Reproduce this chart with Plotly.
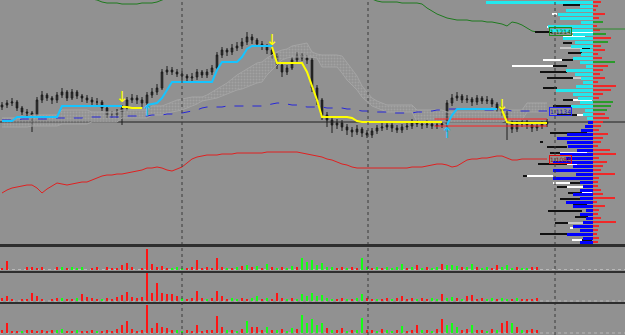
import plotly.graph_objects as go

# ---------------- price data (arbitrary price units) ----------------
idx = list(range(110))
o = [138,140,142,143,137,133,132,130,145,150,
     147,145,150,153,147,153,149,147,145,143,
     143,137,130,130,133,137,145,147,145,142,
     150,153,157,173,175,173,171,169,167,168,
     173,170,173,177,190,195,193,197,199,203,
     208,205,201,199,195,190,180,173,177,185,
     190,187,185,157,145,130,125,120,122,118,
     115,113,116,112,110,114,117,118,120,117,
     115,118,119,123,121,120,121,119,120,121,
     142,147,149,145,146,143,147,144,145,141,
     137,133,123,116,121,123,120,117,119,121]
h = [143,145,147,145,139,136,134,148,154,152,
     149,153,157,155,156,155,151,150,148,147,
     145,139,134,136,140,148,151,150,148,153,
     157,161,176,179,178,176,174,171,172,176,
     175,176,180,193,198,197,201,203,207,213,
     211,207,204,201,197,192,182,180,188,193,
     192,190,187,160,147,133,128,126,125,121,
     118,120,118,115,117,120,122,124,123,120,
     121,123,126,125,124,125,124,123,124,145,
     151,153,151,150,148,150,149,149,147,143,
     139,135,125,124,126,125,122,122,124,126]
l = [135,137,139,134,130,128,113,127,142,144,
     141,142,147,144,145,146,143,142,140,139,
     134,127,127,127,120,134,142,141,138,140,
     147,150,155,170,170,168,165,164,164,165,
     167,167,170,175,187,189,190,194,196,200,
     201,198,195,191,186,176,168,170,175,182,
     184,181,153,140,125,118,112,116,114,110,
     108,110,108,107,107,111,114,115,113,112,
     112,115,116,118,116,117,116,116,117,113,
     139,144,142,142,139,140,141,141,138,133,
     129,105,112,113,118,116,113,114,116,118]
c = [140,142,143,137,133,132,130,145,150,147,
     145,150,153,147,153,149,147,145,143,143,
     137,130,130,133,137,145,147,145,142,150,
     153,157,173,175,173,171,169,167,168,173,
     170,173,177,190,195,193,197,199,203,208,
     205,201,199,195,190,180,173,177,185,190,
     187,185,157,145,130,125,120,122,118,115,
     113,116,112,110,114,117,118,120,117,115,
     118,119,123,121,120,121,119,120,121,142,
     147,149,145,146,143,147,144,145,141,137,
     133,123,116,121,123,120,117,119,121,123]

N = None
trend_up = ([124]*3 + [128]*9 + [139]*13 + [N]*4 +
            [140,141,142,147,155] + [163]*9 + [175] + [183]*4 + [188,196] + [199]*5 +
            [N]*34 + [120,130] + [136]*9 + [N]*10)
trend_dn = ([N]*24 + [138,138,137,137,137] + [N]*25 +
            [198] + [182]*6 + [173,160,145] + [128]*6 + [127,124] + [123]*17 +
            [N]*11 + [135,123] + [122]*8)

ma_blue = [125,125,125,125,126,126,126,126,126,126,127,127,127,127,
           127,127,127,128,128,128,128,128,
           128,128,128,129,129,129,129,
           129,130,130,130,131,131,132,
           132,133,134,135,137,138,
           138,138,138,139,139,139,139,139,139,139,
           139,140,141,142,142,
           141,140,140,139,138,138,
           138,138,137,137,137,137,
           136,136,135,134,134,133,
           133,133,133,132,132,132,132,132,
           133,133,134,134,135,135,136,
           136,136,136,136,136,135,135,135,135,135,
           135,135,134,134,134,134,134,134,134,134]

band_low = [52,55,57,58,59,60,60,57,52,56,
            59,62,61,60,61,62,63,63,65,67,
            69,70,70,71,71,72,73,74,75,77,
            77,78,77,75,74,76,78,82,86,88,
            89,90,90,90,91,91,91,92,92,92,
            92,92,92,93,93,93,93,93,93,93,
            92,91,90,89,88,86,85,83,81,80,
            78,77,77,77,77,77,77,77,77,77,
            77,77,78,78,78,79,80,81,81,80,
            78,79,82,85,86,86,87,87,88,89,
            89,87,85,85,86,86,86,86,86,86]

band_high = [252,252,251,251,250,250,250,249,249,249,249,248,248,248,247,247,247,246,246,
             245,243,242,242,242,241,241,241,241,242,242,242,243,245,
             247,248,249,250,251,252,253,254,255,256,257,258,259,260,261,262,263,264,265,266,
             266,266,265,264,263,262,261,260,259,258,257,256,255,254,253,252,251,250,249,248,247,
             246,244,243,243,243,243,242,242,242,242,241,237,234,231,229,227,226,
             225,225,225,224,224,224,223,223,222,221,219,223,222,220,217,214,213,213,213]

cloud_a = ([127]*6 + [130]*6 + [135]*6 + [133]*6 + [135]*6 + [139]*3 +
           [141,143,145,146,147,148,148,148,150,153,156,159,162,166,170,173,176,179,182,183,
            187,190,193,195,196,199,200,201,202,193,191] +
           [190]*4 + [189,182,175,169,159,153,147,144,142] +
           [140]*6 + [135]*6 + [133]*12 + [135]*4 + [142]*5)
cloud_b = ([118]*6 + [119]*6 + [121]*6 + [123]*6 + [127]*6 + [130]*3 +
           [132,133,134,135,137,139,141,144,145,146,147,149,151,153,155,156,158,160,162,163,
            170,175,180,185,187,188,188,188,188,188,187] +
           [178]*4 + [172,165,160,155,148,143,139,137,135] +
           [133]*6 + [123]*6 + [123]*12 + [125]*4 + [133]*5)

bid_level = 123
red_levels = [126, 119]
red_level_span = [86.5, 109]
day_breaks = [36, 73.2, 110.6]

sig_dn_x = [24, 54, 100]
sig_dn_y = [147, 204, 139]
sig_up_x = [29, 89]
sig_up_y = [133, 111]

# ---------------- volume panels ----------------
vol1 = [2,9,0,0,0,3,3,2,3,0,0,3,3,2,3,2,3,0,2,3,
        0,3,2,2,5,7,3,0,2,21,6,3,4,2,2,3,2,2,3,10,
        2,3,2,12,3,2,2,3,4,5,3,4,2,6,3,2,3,2,4,3,
        12,8,10,5,7,3,3,2,3,2,3,2,12,3,2,3,2,3,2,3,
        6,2,3,5,2,3,2,3,6,5,5,4,3,3,6,3,2,3,2,5,
        3,5,2,3,2,2,3,3,0,0]
vup1 = [0,0,0,0,0,0,0,0,0,0,0,0,1,0,1,1,1,0,0,0,
        0,0,0,0,0,0,0,0,0,0,0,0,0,0,1,1,1,0,0,0,
        0,0,0,0,0,1,0,1,0,1,0,1,0,1,0,1,0,1,1,0,
        1,1,1,1,1,1,1,0,0,1,0,0,1,1,0,1,0,1,1,1,
        1,0,1,0,1,0,1,1,0,1,1,1,0,1,1,0,1,1,0,0,
        1,1,1,0,1,1,0,0,0,0]
vol2 = [3,5,2,0,2,2,8,5,2,0,2,3,3,2,2,3,7,4,3,2,
        2,3,2,4,6,9,4,3,4,28,8,18,8,7,7,5,3,2,3,10,
        3,2,3,10,5,2,3,2,3,2,3,5,2,3,2,8,3,2,3,2,
        7,5,8,5,6,3,2,2,3,2,2,3,7,3,2,2,2,3,2,3,
        5,2,3,2,3,2,3,2,7,3,4,3,2,5,6,2,3,2,3,2,
        3,2,2,3,2,2,2,3,0,0]
vup2 = [0,0,0,0,0,0,0,0,0,0,0,0,1,0,0,1,0,0,0,0,
        1,0,0,0,0,0,0,0,0,0,0,0,0,0,0,0,1,0,0,0,
        0,1,0,0,0,0,1,1,0,0,1,1,0,1,0,0,0,1,0,1,
        1,1,1,1,1,1,1,0,0,1,0,1,1,0,0,1,0,0,1,0,
        0,0,0,1,0,0,1,1,0,1,1,0,1,0,0,0,0,1,1,0,
        1,1,0,1,0,0,0,0,0,0]
vol3 = [3,10,2,2,2,3,3,2,3,2,3,3,4,2,2,3,2,2,3,2,
        2,3,2,4,8,12,4,2,3,28,5,10,6,5,3,3,2,3,2,8,
        2,3,3,17,6,3,3,2,4,12,6,6,3,6,3,3,4,2,5,4,
        18,10,14,8,10,5,3,3,5,2,3,3,15,3,3,2,4,3,2,3,
        7,2,3,8,3,3,2,4,14,8,10,6,3,4,8,3,3,2,4,3,
        10,12,10,6,3,3,4,3,0,0]
vup3 = [0,0,0,0,1,0,0,0,0,0,0,1,1,0,0,1,0,0,0,1,
        0,0,0,0,0,0,0,0,0,0,0,0,0,0,0,1,1,0,0,0,
        0,0,0,0,0,1,0,1,0,1,0,0,0,1,0,1,0,1,1,0,
        1,1,1,1,1,0,1,0,0,1,0,1,1,0,0,1,0,1,1,0,
        1,0,0,0,1,0,1,0,0,1,1,1,0,0,1,0,0,1,0,1,
        0,0,1,0,1,0,0,0,0,0]

# ---------------- volume profile (right side) ----------------
prof_lvl = list(range(243, 2, -4))
prof_left = [107,13,27,35,33,12,45,43,20,30,
             18,22,13,12,20,13,7,27,18,12,
             10,17,37,20,15,13,22,8,10,6,
             5,8,12,26,36,26,25,16,33,27,
             40,20,40,17,40,13,10,13,20,13,
             27,20,7,13,7,10,20,13,26,10,
             13]
prof_right = [8,5,3,12,6,10,4,7,13,18,
              15,8,12,5,9,22,15,10,7,12,
              5,23,18,10,6,20,18,14,12,16,
              10,8,6,15,10,8,5,17,23,6,
              14,10,8,22,6,5,5,8,10,22,
              4,12,6,5,8,23,6,5,4,6,
              5]
prof_right_up = [0,0,0,0,0,1,0,0,1,0,
                 1,0,0,0,0,1,0,0,0,0,
                 0,0,0,0,0,1,1,1,0,0,
                 0,0,0,0,0,0,0,0,0,0,
                 0,0,0,0,0,0,0,0,0,0,
                 0,0,0,0,0,0,0,0,0,0,
                 0]
prof_split = 125

seg_lvl = [240,231,226,226,218,213,213,209,202,197,197,192,185,185,179,179,173,167,167,157,
           145,145,139,130,130,112,103,98,92,92,81,81,75,69,69,62,62,58,58,52,
           52,46,40,34,28,22,22,17,11,11,5,5]
seg_x0 = [-30,-41,-31,-15,-46,-58,-23,-30,-30,-33,-11,-25,-50,-31,-81,-40,-53,-46,-20,-50,
          -30,-20,-40,-36,-16,-43,-53,-46,-43,-33,-55,-26,-33,-70,-66,-40,-23,-36,-26,-25,
          -11,-33,-20,-45,-18,-38,-25,-23,-53,-26,-21,-11]
seg_x1 = [-13,-36,-15,-11,-26,-41,0,-8,-21,-11,-3,-11,-31,-20,-40,-26,-26,-20,-3,-36,
          -20,-1,-13,-16,-1,-6,-50,-26,-33,-6,-26,-16,-13,-66,-40,-23,-6,-26,-6,-11,
          -1,-13,-6,-11,-5,-25,-6,-20,-26,-10,-11,-1]
seg_col = ['k','w','w','k','w','k','w','w','k','g','k','k','w','k','w','k','k','k','g','k',
           'k','w','k','k','w','k','k','k','k','w','k','w','k','k','w','w','k','k','w','k',
           'w','k','k','k','k','k','g','w','k','g','w','k']
right_line_level = 216
right_line_span = [0, 32]

labels = ["1.1214", "1.1134", "1.1086"]
label_lvl = [214, 134, 86]

# ---------------- styling ----------------
BG = '#919191'
RED = '#ff1414'
GREEN = '#14ff14'
fig = go.Figure()

fig.add_trace(go.Scatter(x=idx, y=cloud_a, mode='lines', line=dict(color='#a4a4a4', width=1),
                         hoverinfo='skip'))
fig.add_trace(go.Scatter(x=idx, y=cloud_b, mode='lines', line=dict(color='#a4a4a4', width=1),
                         fill='tonexty', fillcolor='rgba(0,0,0,0)',
                         fillpattern=dict(shape='.', fgcolor='#b2b2b2', bgcolor='rgba(150,150,150,0.3)',
                                          size=3, solidity=0.4),
                         hoverinfo='skip'))
fig.add_trace(go.Scatter(x=idx, y=band_low, mode='lines', line=dict(color='#e02020', width=1)))
fig.add_trace(go.Scatter(x=idx, y=band_high, mode='lines', line=dict(color='#1f7a1f', width=1)))
fig.add_trace(go.Scatter(x=idx, y=ma_blue, mode='lines', line=dict(color='#2626d9', width=1, dash='dash')))
for lv in red_levels:
    fig.add_trace(go.Scatter(x=red_level_span, y=[lv, lv], mode='lines', line=dict(color='#ff2020', width=1)))

fig.add_trace(go.Candlestick(x=idx, open=o, high=h, low=l, close=c, whiskerwidth=0,
                             increasing=dict(line=dict(color='#1c1c1c', width=1), fillcolor='#3c3c3c'),
                             decreasing=dict(line=dict(color='#1c1c1c', width=1), fillcolor='#1c1c1c'),
                             hoverinfo='skip'))

fig.add_trace(go.Scatter(x=idx, y=trend_up, mode='lines', line=dict(color='#16c4ff', width=2), connectgaps=False))
fig.add_trace(go.Scatter(x=idx, y=trend_dn, mode='lines', line=dict(color='#ffff00', width=2), connectgaps=False))
fig.add_trace(go.Scatter(x=sig_dn_x, y=sig_dn_y, mode='text', text=['↓']*len(sig_dn_x),
                         textfont=dict(color='#ffff00', size=15, family='DejaVu Sans')))
fig.add_trace(go.Scatter(x=sig_up_x, y=sig_up_y, mode='text', text=['↑']*len(sig_up_x),
                         textfont=dict(color='#16c4ff', size=15, family='DejaVu Sans')))

# volume profile
cmap = {'k': '#111111', 'w': '#ffffff', 'g': '#c8c8c8'}
for key in ['g', 'w', 'k']:
    ys = [seg_lvl[i] for i in range(len(seg_lvl)) if seg_col[i] == key]
    xs = [seg_x1[i] - seg_x0[i] for i in range(len(seg_lvl)) if seg_col[i] == key]
    bs = [seg_x0[i] for i in range(len(seg_lvl)) if seg_col[i] == key]
    fig.add_trace(go.Bar(y=ys, x=xs, base=bs, orientation='h', width=1.5, marker=dict(color=cmap[key], line=dict(width=0)),
                         xaxis='x2', yaxis='y', hoverinfo='skip'))
fig.add_trace(go.Bar(y=prof_lvl, x=[-v for v in prof_left], base=0, orientation='h', width=3.0,
                     marker=dict(color=['#22e8ee' if p > prof_split else '#0000ff' for p in prof_lvl], line=dict(width=0)),
                     xaxis='x2', yaxis='y', hoverinfo='skip'))
fig.add_trace(go.Bar(y=prof_lvl, x=prof_right, base=0, orientation='h', width=2.6,
                     marker=dict(color=['#2a9a2a' if u else '#f02828' for u in prof_right_up], line=dict(width=0)),
                     xaxis='x2', yaxis='y', hoverinfo='skip'))
fig.add_trace(go.Scatter(x=right_line_span, y=[right_line_level]*2, mode='lines', line=dict(color='#2a8a2a', width=1),
                         xaxis='x2', yaxis='y'))

# volume sub-panels
for vol, up, ax in [(vol1, vup1, 'y2'), (vol2, vup2, 'y3'), (vol3, vup3, 'y4')]:
    fig.add_trace(go.Bar(x=idx, y=vol, width=0.55, marker=dict(color=[GREEN if u else RED for u in up], line=dict(width=0)),
                         xaxis='x', yaxis=ax, hoverinfo='skip'))

shapes = []
shapes.append(dict(type='line', xref='paper', x0=0, x1=1, yref='y', y0=bid_level, y1=bid_level,
                   line=dict(color='#1e1e1e', width=1), layer='below'))
for d in day_breaks:
    shapes.append(dict(type='line', xref='x', x0=d, x1=d, yref='paper', y0=0, y1=1,
                       line=dict(color='#3a3a3a', width=1, dash='dot')))
for y0, y1 in [(0.2627, 0.2716), (0.1851, 0.1910), (0.0925, 0.0985)]:
    shapes.append(dict(type='rect', xref='paper', x0=0, x1=1, yref='paper', y0=y0, y1=y1,
                       fillcolor='#2e2e2e', line=dict(width=0)))
for yb in [0.1955, 0.1015, 0.0060]:
    shapes.append(dict(type='line', xref='paper', x0=0, x1=1, yref='paper', y0=yb, y1=yb,
                       line=dict(color='#b8b8b8', width=1, dash='dot'), layer='below'))

annotations = []
for txt, lv, bc, fc in zip(labels, label_lvl, ['#1f8a1f', '#2020ff', '#e01010'], ['#0c5a0c', '#1010c0', '#8a0a0a']):
    annotations.append(dict(x=-33, y=lv, xref='x2', yref='y', text=txt, showarrow=False,
                            font=dict(size=6, color=fc, family='DejaVu Sans'),
                            bordercolor=bc, borderwidth=1, borderpad=0, bgcolor='rgba(0,0,0,0)'))

fig.update_layout(
    width=625, height=335, margin=dict(l=0, r=0, t=0, b=0),
    paper_bgcolor=BG, plot_bgcolor=BG, showlegend=False, barmode='overlay', bargap=0,
    boxgap=0.55,
    xaxis=dict(domain=[0, 1], range=[-0.4, 124.6], visible=False, rangeslider=dict(visible=False)),
    xaxis2=dict(overlaying='x', anchor='y', range=[-593, 32], visible=False),
    yaxis=dict(domain=[0.2716, 1], range=[1, 245], visible=False),
    yaxis2=dict(domain=[0.194, 0.2627], range=[0, 23], visible=False),
    yaxis3=dict(domain=[0.1015, 0.1851], range=[0, 28], visible=False),
    yaxis4=dict(domain=[0.006, 0.0925], range=[0, 29], visible=False),
    shapes=shapes, annotations=annotations,
)

fig.write_html("out.html")
